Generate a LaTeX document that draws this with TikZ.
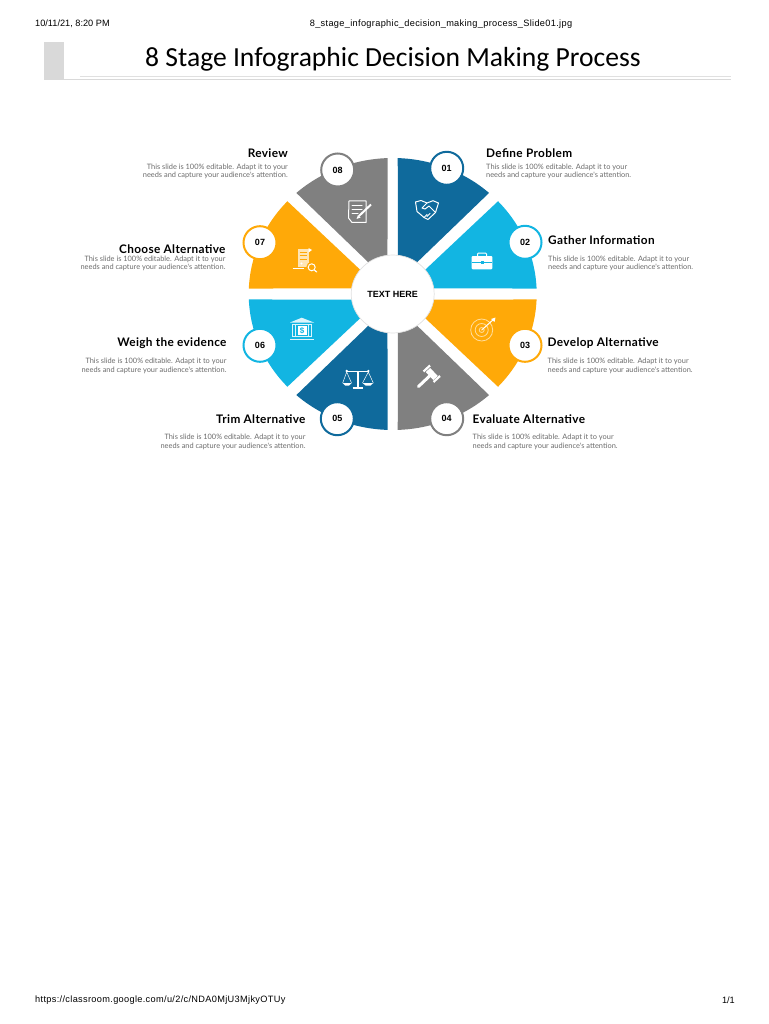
\documentclass[tikz,border=0pt]{standalone}
\usepackage{fontspec}
\usetikzlibrary{shapes.geometric}
\setmainfont{Liberation Sans}
\newfontfamily\titlefont{Carlito}
\newfontfamily\labelfont{Lato}
\newfontfamily\headfont[LetterSpace=3]{Lato}
\newfontfamily\pagefont[LetterSpace=3.6]{Liberation Sans}
\definecolor{stagedark}{HTML}{0F6A9C}
\definecolor{stagecyan}{HTML}{12B5E2}
\definecolor{stageamber}{HTML}{FFA908}
\definecolor{stagegrey}{HTML}{808080}
\tikzset{
    slice/.style={x radius=144pt,y radius=136pt},
    badge/.style={circle,draw=#1,line width=2pt,fill=white,inner sep=0pt,minimum size=33pt,font=\bfseries\fontsize{9}{9}\selectfont},
    headtext/.style={font=\headfont\bfseries\fontsize{11.8}{11.8}\selectfont,inner sep=0pt},
    bodytext/.style={font=\labelfont\fontsize{7.4}{8.5}\selectfont,text=black!58,inner sep=0pt},
    pagetext/.style={font=\fontsize{9.2}{9.2}\selectfont,inner sep=0pt},
    iconline/.style={draw=white,line width=1pt,line join=round,line cap=round}
}
\begin{document}
\begin{tikzpicture}[x=1pt,y=-1pt]
    \useasboundingbox (0,0) rectangle (768,1024);
    \node[pagetext,anchor=west] (stamp) at (35,24) {10/11/21, 8:20 PM};
    \node[pagetext,font=\pagefont\fontsize{9.2}{9.2}\selectfont] (filename) at (441,24) {8\_stage\_infographic\_decision\_making\_process\_Slide01.jpg};
    \node[pagetext,font=\pagefont\fontsize{9.2}{9.2}\selectfont,anchor=west] (url) at (35,1000) {https://classroom.google.com/u/2/c/NDA0MjU3MjkyOTUy};
    \node[pagetext,anchor=east] (pageno) at (735,1000) {1/1};
    \fill[black!15] (44,42) rectangle (64,80);
    \draw[black!15,line width=1pt] (44,79.5) -- (731,79.5);
    \draw[black!12,line width=0.7pt] (80,76) -- (731,76);
    \node[font=\titlefont\fontsize{27.6}{27.6}\selectfont,inner sep=0pt] (title) at (393,59) {8 Stage Infographic Decision Making Process};
    \begin{scope}[shift={(392.7,294)},y=1pt]
        \fill[stagedark] (88:144pt and 136pt) arc[slice,start angle=88,end angle=48] -- (5.3,13.3) -- cycle;
        \fill[stagecyan] (43:144pt and 136pt) arc[slice,start angle=43,end angle=2.3] -- (12.8,5.7) -- cycle;
        \fill[stageamber] (-2.3:144pt and 136pt) arc[slice,start angle=-2.3,end angle=-43] -- (12.8,-5.7) -- cycle;
        \fill[stagegrey] (-48:144pt and 136pt) arc[slice,start angle=-48,end angle=-88] -- (5.3,-13.3) -- cycle;
        \fill[stagedark] (-92:144pt and 136pt) arc[slice,start angle=-92,end angle=-132] -- (-5.3,-13.3) -- cycle;
        \fill[stagecyan] (-137:144pt and 136pt) arc[slice,start angle=-137,end angle=-177.7] -- (-12.8,-5.7) -- cycle;
        \fill[stageamber] (177.7:144pt and 136pt) arc[slice,start angle=177.7,end angle=137] -- (-12.8,5.7) -- cycle;
        \fill[stagegrey] (132:144pt and 136pt) arc[slice,start angle=132,end angle=92] -- (-5.3,13.3) -- cycle;
    \end{scope}
    \node[ellipse,draw=black!12,line width=0.7pt,fill=white,inner sep=0pt,minimum width=83pt,minimum height=78pt,font=\bfseries\fontsize{9}{9}\selectfont] (hub) at (392.7,294) {TEXT HERE};
    \node[badge=stagedark] (b1) at (446.7,168.3) {01};
    \node[badge=stagecyan] (b2) at (525,242.3) {02};
    \node[badge=stageamber] (b3) at (525,345.3) {03};
    \node[badge=stagegrey] (b4) at (446.7,418.7) {04};
    \node[badge=stagedark] (b5) at (337.3,418.7) {05};
    \node[badge=stagecyan] (b6) at (260,345.3) {06};
    \node[badge=stageamber] (b7) at (260,242.7) {07};
    \node[badge=stagegrey] (b8) at (337.7,170) {08};
    \node[headtext,anchor=west] (h1) at (486,153) {Define Problem};
    \node[bodytext,anchor=west,align=left] (t1) at (486,171.5) {This slide is 100\% editable. Adapt it to your\\needs and capture your audience's attention.};
    \node[headtext,anchor=west] (h2) at (548,240) {Gather Information};
    \node[bodytext,anchor=west,align=left] (t2) at (548,263.5) {This slide is 100\% editable. Adapt it to your\\needs and capture your audience's attention.};
    \node[headtext,anchor=west] (h3) at (547.5,343.3) {Develop Alternative};
    \node[bodytext,anchor=west,align=left] (t3) at (547.5,366) {This slide is 100\% editable. Adapt it to your\\needs and capture your audience's attention.};
    \node[headtext,anchor=west] (h4) at (472.5,419.3) {Evaluate Alternative};
    \node[bodytext,anchor=west,align=left] (t4) at (472.5,442) {This slide is 100\% editable. Adapt it to your\\needs and capture your audience's attention.};
    \node[headtext,anchor=east] (h5) at (305.7,419.3) {Trim Alternative};
    \node[bodytext,anchor=east,align=right] (t5) at (305.7,442) {This slide is 100\% editable. Adapt it to your\\needs and capture your audience's attention.};
    \node[headtext,anchor=east] (h6) at (226.7,343.3) {Weigh the evidence};
    \node[bodytext,anchor=east,align=right] (t6) at (226.7,366) {This slide is 100\% editable. Adapt it to your\\needs and capture your audience's attention.};
    \node[headtext,anchor=east] (h7) at (225.7,248.7) {Choose Alternative};
    \node[bodytext,anchor=east,align=right] (t7) at (225.7,263.5) {This slide is 100\% editable. Adapt it to your\\needs and capture your audience's attention.};
    \node[headtext,anchor=east] (h8) at (288,153) {Review};
    \node[bodytext,anchor=east,align=right] (t8) at (288,171.2) {This slide is 100\% editable. Adapt it to your\\needs and capture your audience's attention.};
    \draw[iconline] (415.5,202) -- (421,200.5) -- (427,203) -- (433,200.7) -- (438.5,203) -- (435.5,212.5) -- (428,219.5) -- (424,217.5) -- (420,214) -- (417,211.5) -- cycle;
    \draw[iconline] (427,203) -- (422,208) -- (425,209) -- (429,206) -- (435.5,212.5);
    \draw[iconline] (424,217.5) -- (427,214.5) (427,216.5) -- (430,213.5);
    \fill[white,rounded corners=1pt] (471.7,256) rectangle (492.3,269.3);
    \draw[white,line width=1pt,rounded corners=1pt] (477.5,256) -- (477.5,253) -- (486.5,253) -- (486.5,256);
    \draw[stagecyan,line width=0.6pt] (471.7,262) -- (492.3,262);
    \fill[stagecyan] (480.5,260.5) rectangle (483.5,263.5);
    \draw[draw=stageamber!40!white,line width=0.8pt] (481.7,330) circle[radius=11pt];
    \draw[draw=stageamber!40!white,line width=0.8pt] (481.7,330) circle[radius=6.5pt];
    \draw[draw=stageamber!40!white,line width=0.8pt] (481.7,330) circle[radius=2.5pt];
    \draw[iconline] (481.7,330) -- (494,319);
    \fill[white] (495.5,317.5) -- (494.5,322) -- (491,319) -- cycle;
    \draw[white,line width=3pt,line cap=round] (418.5,386.5) -- (431.7,374);
    \draw[white,line width=6pt] (428,370) -- (435.5,378);
    \draw[white,line width=2.2pt] (423.5,371.5) -- (430,365.5);
    \draw[white,line width=2.2pt] (433.5,382) -- (440,376);
    \draw[iconline] (349,201) -- (366,201) -- (366,222.5) -- (352,222.5) -- (348.5,218) -- cycle;
    \draw[iconline] (352,206) -- (362,206) (352,210) -- (362,210) (352,214) -- (358,214);
    \draw[white,line width=2pt] (359,216) -- (371,204.5);
    \fill[white] (356.5,219) -- (358,215) -- (360.5,217.5) -- cycle;
    \fill[white!70!stageamber] (297.5,248.5) rectangle (308.5,267);
    \draw[stageamber,line width=0.7pt] (299.5,252) -- (306.5,252) (299.5,255.5) -- (306.5,255.5) (299.5,259) -- (306.5,259);
    \fill[white] (308.5,248) -- (312,250) -- (308.5,252.5) -- cycle;
    \draw[white,line width=1.2pt] (292.7,268.3) -- (304,268.3);
    \fill[white] (301.5,263.5) circle[radius=1.2pt];
    \fill[stageamber] (311.7,267.3) circle[radius=5.5pt];
    \draw[iconline] (311.7,267.3) circle[radius=3.5pt];
    \draw[iconline,line width=1.2pt] (314.3,270) -- (316.7,272);
    \fill[white!85!stagecyan] (301.7,317.7) -- (314,322.5) -- (290,322.5) -- cycle;
    \draw[white!85!stagecyan,line width=0.9pt] (292.7,324.3) -- (292.7,337) (311,324.3) -- (311,337) (292,324.3) -- (311.7,324.3) (292,336.8) -- (311.7,336.8);
    \draw[white!85!stagecyan,line width=0.7pt] (295.5,324.3) -- (295.5,337) (308.2,324.3) -- (308.2,337);
    \draw[white!85!stagecyan,line width=0.9pt] (290,339.5) -- (314,339.5);
    \node[fill=white,text=stagecyan,font=\bfseries\fontsize{8}{8}\selectfont,inner sep=0pt,minimum width=9pt,minimum height=9pt] (dollar) at (302,330.6) {\$};
    \draw[white,line width=1pt] (346.7,371.5) -- (368.3,371.5);
    \draw[white,line width=1.6pt] (357.7,371.5) -- (357.7,386.5);
    \draw[white,line width=1.4pt] (352.7,388) -- (362.7,388);
    \fill[white] (346.7,371) circle[radius=1.3pt] (368.3,371) circle[radius=1.3pt];
    \draw[white,line width=0.5pt] (342.7,383) -- (346.7,372) -- (351.5,383) (362.5,383) -- (368.3,372) -- (373.3,383);
    \fill[white] (342.7,383) -- (351.5,383) -- (349,385.5) -- (345,385.5) -- cycle;
    \fill[white] (362.5,383) -- (373.3,383) -- (370.5,385.5) -- (365.5,385.5) -- cycle;
\end{tikzpicture}
\end{document}
